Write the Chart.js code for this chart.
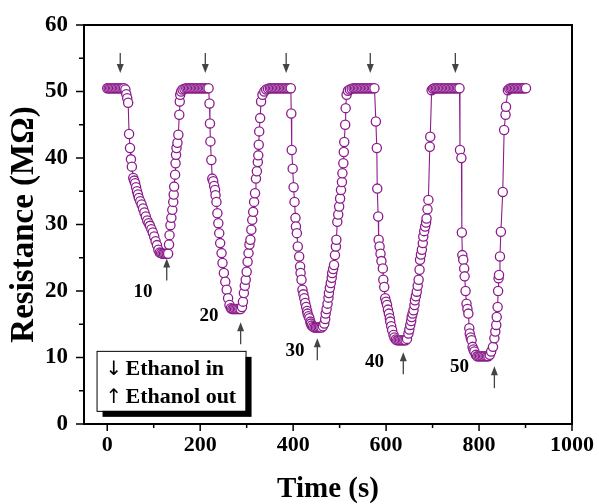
<!DOCTYPE html>
<html>
<head>
<meta charset="utf-8">
<script src="https://cdn.jsdelivr.net/npm/chart.js@4.4.1/dist/chart.umd.min.js"></script>
<style>
  body { margin: 0; background: #fff; }
  #wrap { width: 599px; height: 504px; }
</style>
</head>
<body>
<div id="wrap"><canvas id="resistanceChart" width="599" height="504"></canvas></div>
<script>
// time (s) / resistance (MOhm), one pair per ethanol pulse
var t10 = [0,3,6,9,12,15,18,21,24,27,30,33,36,
  39,41,43,45,47,49,51,53,56,58,60,62,64,66,68,71,74,77,80,83,86,89,92,95,98,101,104,107,110,113,116,119,122,125,128,131,
  133,134,136,138,140,142,143,144,146,147,148,149,151,153,155,156,157,159,162,166,
  170,173,176,179,182,185,188,191,194,197,200,203,206,209,212,215,218];
var r10 = [50.5,50.5,50.5,50.5,50.5,50.5,50.5,50.5,50.5,50.5,50.5,50.5,50.5,
  50.3,49.6,49.0,48.3,43.6,41.5,39.8,38.7,37.0,36.6,36.2,35.6,35.0,34.5,34.0,33.5,33.0,32.4,31.8,31.2,30.6,30.2,29.8,29.3,28.8,28.2,27.5,26.9,26.2,25.8,25.7,25.6,25.6,25.6,25.6,25.6,
  27.0,28.4,29.9,31.0,32.2,33.4,34.5,35.7,37.5,39.2,40.5,41.5,42.3,43.5,46.5,48.5,49.5,50.0,50.3,50.4,
  50.5,50.5,50.5,50.5,50.5,50.5,50.5,50.5,50.5,50.5,50.5,50.5,50.5,50.5,50.5,50.5,50.5];

var t20 = [220,221,222,224,226,228,230,232,233,235,237,239,241,243,246,248,251,254,257,260,263,266,269,272,275,278,281,284,287,290,
  292,294,296,298,300,302,304,306,308,310,312,314,316,318,320,322,324,325,326,327,329,331,334,338,342,346,
  350,353,356,359,362,365,368,371,374,377,380,383,386,389,392];
var r20 = [48.2,45.2,42.5,39.7,36.9,36.5,35.8,35.2,34.4,33.4,31.7,30.2,28.7,27.2,25.7,24.2,22.7,21.4,20.2,18.9,17.9,17.4,17.3,17.3,17.3,17.3,17.3,17.3,17.3,17.6,
  18.4,19.7,20.8,21.7,22.9,24.4,25.7,27.0,27.7,29.2,30.7,31.9,33.4,34.7,36.9,38.0,39.4,40.4,42.0,44.0,46.0,48.5,49.5,50.0,50.3,50.4,
  50.5,50.5,50.5,50.5,50.5,50.5,50.5,50.5,50.5,50.5,50.5,50.5,50.5,50.5,50.5];

var t30 = [395,396,397,399,401,403,405,406,408,410,413,415,416,418,420,422,424,426,428,430,431,433,435,437,438,440,443,446,449,452,455,458,461,464,
  467,469,470,472,474,476,477,479,481,483,484,486,488,490,492,493,495,497,499,501,503,505,506,508,509,510,512,513,515,518,522,526,
  530,533,536,539,542,545,548,551,554,557,560,563,566,569,572,575];
var r30 = [50.5,46.7,41.2,38.4,35.6,33.4,31.0,29.7,28.7,26.7,25.2,23.7,22.7,21.7,20.2,19.5,18.9,18.2,17.6,17.0,16.6,16.2,15.9,15.4,15.1,14.8,14.6,14.5,14.5,14.5,14.5,14.5,14.5,14.7,
  15.1,15.8,16.6,17.3,18.1,19.0,19.7,20.5,21.2,22.0,22.7,23.3,23.9,25.4,26.7,27.7,30.4,31.5,32.7,33.9,35.2,36.4,37.7,39.2,40.9,42.4,45.0,47.5,49.5,50.1,50.3,50.4,
  50.5,50.5,50.5,50.5,50.5,50.5,50.5,50.5,50.5,50.5,50.5,50.5,50.5,50.5,50.5,50.5];

var t40 = [578,580,581,583,584,586,588,590,593,594,596,598,600,602,604,606,608,609,611,613,616,618,621,624,627,630,633,636,639,642,645,
  648,650,652,654,655,657,659,661,662,664,666,668,670,672,673,675,677,679,680,682,684,686,687,689,691,694,695,698,701,
  704,707,710,713,716,719,722,725,728,731,734,737,740,743,746,749,752,755,758];
var r40 = [45.5,41.5,35.4,31.2,27.7,26.7,25.6,24.5,23.4,21.7,20.6,18.9,18.4,17.9,17.2,16.6,15.9,15.4,14.7,14.1,13.4,13.0,12.7,12.6,12.6,12.6,12.6,12.6,12.6,12.6,12.8,
  13.6,14.2,14.9,15.5,16.1,16.6,17.1,17.9,18.6,19.2,19.9,20.8,21.7,23.2,24.7,25.5,26.2,27.2,28.2,29.0,29.7,30.3,30.9,32.3,33.7,41.7,43.2,50.2,50.4,
  50.5,50.5,50.5,50.5,50.5,50.5,50.5,50.5,50.5,50.5,50.5,50.5,50.5,50.5,50.5,50.5,50.5,50.5,50.5];

var t50 = [759,762,763,764,766,768,769,771,773,775,777,779,780,782,784,786,788,790,793,796,799,802,805,808,811,814,817,820,823,
  826,830,833,835,837,838,840,841,842,843,845,847,851,854,857,858,862,865,
  868,871,874,877,880,883,886,889,892,895,898,901];
var r50 = [41.2,40.0,28.8,25.4,24.7,23.4,22.2,20.0,18.1,17.3,16.6,14.4,13.6,13.0,12.6,11.6,11.2,10.9,10.4,10.2,10.2,10.2,10.2,10.2,10.2,10.2,10.2,10.2,10.4,
  10.9,11.6,12.9,13.9,14.9,16.1,17.6,20.0,21.9,22.4,25.2,28.9,34.9,44.2,46.5,47.7,50.2,50.4,
  50.5,50.5,50.5,50.5,50.5,50.5,50.5,50.5,50.5,50.5,50.5,50.5];

var concLabels = ["10", "20", "30", "40", "50"];
var gasInTimes = [28, 211, 385, 566, 749];
var gasOutTimes = [128, 287, 452, 637, 833];
var xTickValues = [0, 200, 400, 600, 800, 1000];
var yTickValues = [0, 10, 20, 30, 40, 50, 60];

var PURPLE = "#8b1c8b";
var SERIF = "'Liberation Serif', 'Times New Roman', serif";

var points = [];
[[t10, r10], [t20, r20], [t30, r30], [t40, r40], [t50, r50]].forEach(function(c) {
  for (var i = 0; i < c[0].length; i++) points.push({ x: c[0][i], y: c[1][i] });
});

// where the annotations sit, in data units
var labelPos = [[77, 19.8], [219, 16.2], [404, 10.9], [575, 9.3], [758, 8.5]];
var outArrowTip = [24.9, 15.3, 12.9, 10.8, 8.7];

function arrow(ctx, x, yTail, yTip) {
  var dir = yTip > yTail ? 1 : -1;
  ctx.beginPath();
  ctx.moveTo(x, yTail);
  ctx.lineTo(x, yTip - dir * 6);
  ctx.stroke();
  ctx.beginPath();
  ctx.moveTo(x, yTip);
  ctx.lineTo(x - 3.5, yTip - dir * 9);
  ctx.lineTo(x + 3.5, yTip - dir * 9);
  ctx.closePath();
  ctx.fill();
}

var overlay = {
  id: "overlay",
  afterDraw: function(chart) {
    var ctx = chart.ctx, xs = chart.scales.x, ys = chart.scales.y, a = chart.chartArea;
    ctx.save();

    // outward ticks, minor ones shorter
    ctx.strokeStyle = "#000";
    ctx.lineWidth = 1.5;
    for (var v = 0; v <= 1000; v += 100) {
      var px = xs.getPixelForValue(v);
      ctx.beginPath();
      ctx.moveTo(px, a.bottom);
      ctx.lineTo(px, a.bottom + (v % 200 === 0 ? 7 : 4));
      ctx.stroke();
    }
    for (v = 0; v <= 60; v += 5) {
      var py = ys.getPixelForValue(v);
      ctx.beginPath();
      ctx.moveTo(a.left, py);
      ctx.lineTo(a.left - (v % 10 === 0 ? 8 : 5), py);
      ctx.stroke();
    }

    // frame
    ctx.lineWidth = 2;
    ctx.strokeRect(a.left, a.top, a.right - a.left, a.bottom - a.top);

    // gas in / gas out arrows
    ctx.strokeStyle = "#444";
    ctx.fillStyle = "#444";
    ctx.lineWidth = 1.3;
    gasInTimes.forEach(function(t) {
      arrow(ctx, xs.getPixelForValue(t), ys.getPixelForValue(55.8), ys.getPixelForValue(52.8));
    });
    gasOutTimes.forEach(function(t, i) {
      var tip = ys.getPixelForValue(outArrowTip[i]);
      arrow(ctx, xs.getPixelForValue(t), tip + 22, tip);
    });

    // concentration labels
    ctx.fillStyle = "#000";
    ctx.font = "bold 19px " + SERIF;
    ctx.textAlign = "center";
    ctx.textBaseline = "middle";
    concLabels.forEach(function(s, i) {
      ctx.fillText(s, xs.getPixelForValue(labelPos[i][0]), ys.getPixelForValue(labelPos[i][1]));
    });

    // legend box with drop shadow
    var bx = xs.getPixelForValue(-23), by = ys.getPixelForValue(11.0);
    var bw = 149, bh = 60;
    ctx.fillStyle = "#000";
    ctx.fillRect(bx + 6, by + 6, bw, bh);
    ctx.fillStyle = "#fff";
    ctx.fillRect(bx, by, bw, bh);
    ctx.strokeStyle = "#000";
    ctx.lineWidth = 1;
    ctx.strokeRect(bx + 0.5, by + 0.5, bw, bh);

    ctx.fillStyle = "#000";
    ctx.textAlign = "left";
    ctx.textBaseline = "alphabetic";
    ctx.font = "20px 'DejaVu Sans'";
    ctx.fillText("\u2193", bx + 9, by + 24);
    ctx.fillText("\u2191", bx + 9, by + 52);
    ctx.font = "bold 22px " + SERIF;
    ctx.fillText("Ethanol in", bx + 29, by + 24);
    ctx.fillText("Ethanol out", bx + 29, by + 52);

    ctx.restore();
  }
};

var ctx = document.getElementById("resistanceChart").getContext("2d");
new Chart(ctx, {
  type: "scatter",
  data: {
    datasets: [{
      data: points,
      showLine: true,
      borderColor: PURPLE,
      borderWidth: 1.1,
      pointRadius: 4.6,
      pointBorderWidth: 1.3,
      pointBorderColor: PURPLE,
      pointBackgroundColor: "#fff",
      tension: 0
    }]
  },
  options: {
    responsive: false,
    animation: false,
    layout: { padding: { top: 25, right: 27, left: 0, bottom: 0 } },
    plugins: { legend: { display: false }, tooltip: { enabled: false } },
    scales: {
      x: {
        type: "linear",
        min: -50,
        max: 1000,
        afterBuildTicks: function(s) { s.ticks = xTickValues.map(function(v) { return { value: v }; }); },
        // fixed box, and no extra room for the edge labels
        afterFit: function(s) { s.height = 80; s.paddingLeft = 0; s.paddingRight = 0; },
        grid: { display: true, drawOnChartArea: false, drawTicks: false },
        border: { display: false },
        ticks: { color: "#000", padding: 8, maxRotation: 0, callback: function(v) { return String(v); },
                 font: { family: SERIF, size: 22, weight: "bold" } },
        title: { display: true, text: "Time (s)", color: "#000", padding: { top: 0, bottom: 0 },
                 font: { family: SERIF, size: 29, weight: "bold", lineHeight: 1.0 } }
      },
      y: {
        min: 0,
        max: 60,
        afterBuildTicks: function(s) { s.ticks = yTickValues.map(function(v) { return { value: v }; }); },
        afterFit: function(s) { s.width = 84; s.paddingTop = 0; s.paddingBottom = 0; },
        grid: { display: true, drawOnChartArea: false, drawTicks: false },
        border: { display: false },
        ticks: { color: "#000", padding: 16, callback: function(v) { return String(v); },
                 font: { family: SERIF, size: 23, weight: "bold" } },
        title: { display: true, text: "Resistance (M\u03a9)", color: "#000", padding: { top: 8, bottom: 0 },
                 font: { family: SERIF, size: 33, weight: "bold", lineHeight: 1.0 } }
      }
    }
  },
  plugins: [overlay]
});
</script>
</body>
</html>
